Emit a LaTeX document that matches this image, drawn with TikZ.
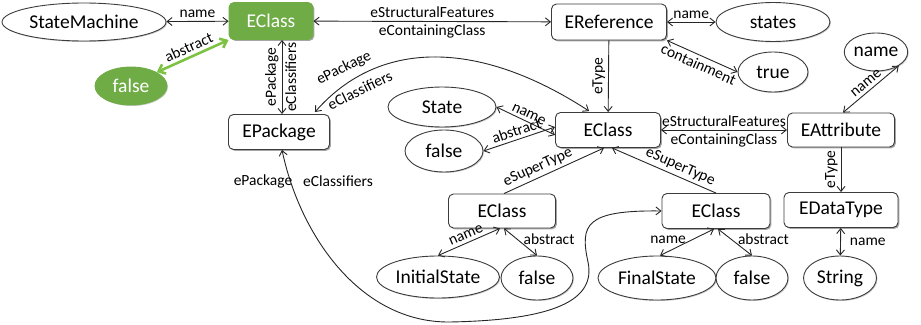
\documentclass[tikz,border=0pt]{standalone}
\usepackage{fontspec}
\setmainfont{Carlito}
\usetikzlibrary{arrows.meta,shapes.geometric,shadows,calc}
\definecolor{boxline}{HTML}{3C3C3C}
\definecolor{leafgreen}{HTML}{6FAC46}
\definecolor{arrowgreen}{HTML}{7DC242}
\begin{document}
\begin{tikzpicture}[x=1pt,y=-1pt,
  >={Straight Barb[length=5pt,width=8pt]},
  every path/.style={line width=0.9pt},
  cls/.style={draw=boxline,rounded corners=5pt,fill=white,inner sep=0pt,
    font=\fontsize{19.5}{22}\selectfont,
    drop shadow={shadow xshift=1.4pt,shadow yshift=-1.4pt,opacity=0.35,fill=black}},
  val/.style={draw=boxline,ellipse,fill=white,inner sep=0pt,
    font=\fontsize{19.5}{22}\selectfont,
    drop shadow={shadow xshift=1pt,shadow yshift=-1pt,opacity=0.2,fill=black}},
  lbl/.style={font=\fontsize{15.5}{17}\selectfont,inner sep=3pt},
  rel/.style={draw=black!85}
]
\useasboundingbox (0,0) rectangle (921,324);

% --- nodes ---
\node[val,minimum width=164,minimum height=38] (sm) at (84,22) {StateMachine};
\node[cls,draw=leafgreen,fill=leafgreen,text=white,minimum width=84,minimum height=37] (gc) at (271,21) {EClass};
\node[val,draw=leafgreen,fill=leafgreen,text=white,minimum width=72,minimum height=38] (gf) at (131,86) {false};
\node[cls,minimum width=115,minimum height=36] (eref) at (609,22) {EReference};
\node[val,minimum width=114,minimum height=39] (states) at (773,22) {states};
\node[val,minimum width=70,minimum height=40] (tru) at (773,72) {true};
\node[val,minimum width=60,minimum height=38] (nm) at (876,52) {name};
\node[cls,minimum width=101,minimum height=35] (pkg) at (279,132) {EPackage};
\node[val,minimum width=108,minimum height=40] (st) at (442,107) {State};
\node[val,minimum width=78,minimum height=42] (f1) at (444,151) {false};
\node[cls,minimum width=105,minimum height=35] (ec) at (608,130) {EClass};
\node[cls,minimum width=107,minimum height=34] (eatt) at (841,130) {EAttribute};
\node[cls,minimum width=114,minimum height=35] (edt) at (841,210) {EDataType};
\node[val,minimum width=73,minimum height=44] (str) at (840,278) {String};
\node[cls,minimum width=107,minimum height=34] (ecl) at (502,211) {EClass};
\node[cls,minimum width=108,minimum height=35] (ecr) at (716,211) {EClass};
\node[val,minimum width=123,minimum height=42] (ini) at (438,277) {InitialState};
\node[val,minimum width=72,minimum height=44] (f2) at (537,278) {false};
\node[val,minimum width=118,minimum height=44] (fin) at (657,278) {FinalState};
\node[val,minimum width=72,minimum height=44] (f3) at (752,278) {false};

% --- top row ---
\draw[rel,<->] (sm) -- node[lbl,above]{name} (gc);
\draw[draw=arrowgreen,line width=2.6pt,
  {Straight Barb[length=6pt,width=10pt]}-{Straight Barb[length=6pt,width=10pt]}]
  (gf.north east) -- node[lbl,sloped,above,text=black]{abstract} (gc.south west);
\draw[rel,<->] ([xshift=3pt]pkg.north) --
  node[lbl,sloped,above]{ePackage} node[lbl,sloped,below]{eClassifiers}
  ([xshift=11pt]gc.south);
\draw[rel,<->] (gc) -- node[lbl,above]{eStructuralFeatures}
  node[lbl,below]{eContainingClass} (eref);
\draw[rel,<->] (eref) -- node[lbl,above]{name} (states);
\draw[rel,<->] (eref.south east) -- node[lbl,sloped,below]{containment} (tru.west);
\draw[rel,<-] (ec) -- node[lbl,sloped,above]{eType} (eref);

% --- package link from the middle class ---
\draw[rel,<->] ([xshift=-15pt,yshift=2pt]pkg.north east)
  .. controls (380,38) and (480,40) .. ([xshift=34pt,yshift=1pt]ec.north west);
\node[lbl,rotate=26] (lp1) at (344,68) {ePackage};
\node[lbl,rotate=26] (lp2) at (360,90) {eClassifiers};

% --- middle class ---
\draw[rel,<->] (st.east) -- node[lbl,sloped,above]{name} ([yshift=-5pt]ec.west);
\draw[rel,<->] (f1.east) -- node[lbl,sloped,above]{abstract} ([yshift=3pt]ec.west);
\draw[rel,<->] (ec) -- node[lbl,above]{eStructuralFeatures}
  node[lbl,below]{eContainingClass} (eatt);
\draw[rel,<->] ([xshift=2pt]eatt.north) -- node[lbl,sloped,above]{name} (nm.south east);
\draw[rel,<-] (edt) -- node[lbl,sloped,above]{eType} (eatt);
\draw[rel,<->] (edt) -- node[lbl,right=6pt]{name} (str);

% --- subclasses ---
\draw[rel,->] ([xshift=2pt]ecl.north) -- node[lbl,sloped,above,pos=0.38]{eSuperType} ([xshift=-4pt]ec.south);
\draw[rel,<-] ([xshift=4pt]ec.south) -- node[lbl,sloped,above,pos=0.62]{eSuperType} (ecr.north);
\draw[rel,<->] (ini.north) -- node[lbl,sloped,above]{name} ([xshift=-2pt]ecl.south);
\draw[rel,<->] (f2.north) -- node[lbl,right=3pt,pos=0.6]{abstract} ([xshift=2pt]ecl.south);
\draw[rel,<->] ([xshift=3pt]fin.north) -- node[lbl,left=3pt,pos=0.6]{name} ([xshift=-2pt]ecr.south);
\draw[rel,<->] (f3.north) -- node[lbl,right=3pt,pos=0.6]{abstract} ([xshift=2pt]ecr.south);

% --- package link from the final-state class ---
\draw[rel,<->] ([xshift=3pt]pkg.south)
  .. controls (300,235) and (360,323) .. (450,322)
  .. controls (555,320) and (596,300) .. (588,262)
  .. controls (580,225) and (585,210) .. (ecr.west);
\node[lbl] (lp3) at (263,181) {ePackage};
\node[lbl] (lp4) at (338,181) {eClassifiers};
\end{tikzpicture}
\end{document}
